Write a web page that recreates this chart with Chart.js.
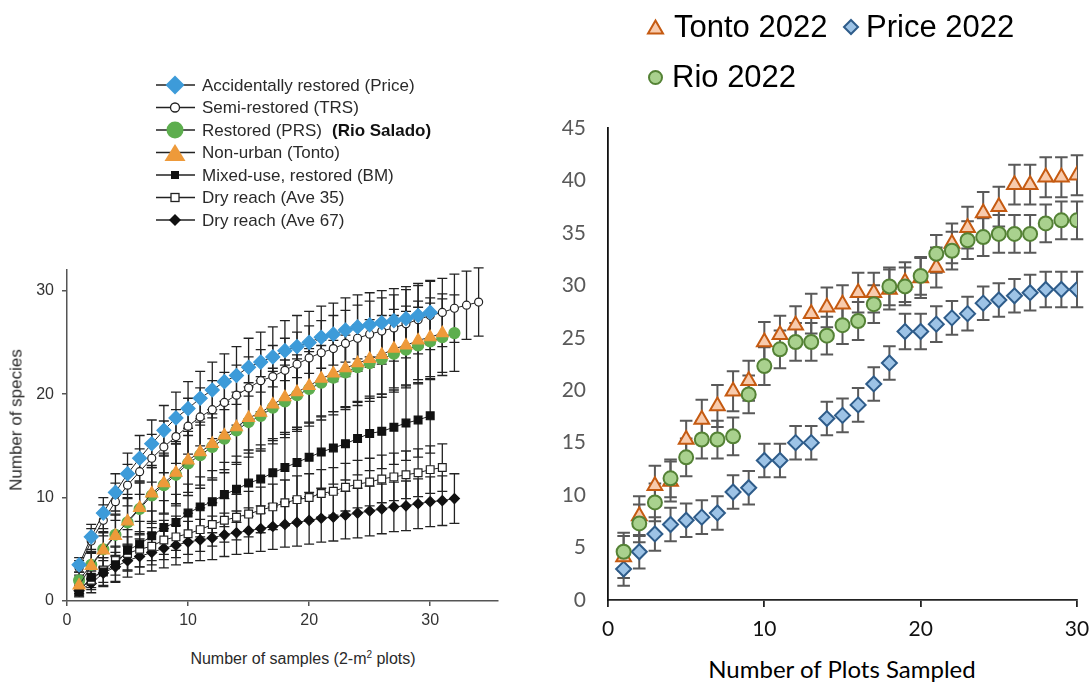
<!DOCTYPE html>
<html><head><meta charset="utf-8">
<script src="https://cdn.jsdelivr.net/npm/chart.js@4.4.1/dist/chart.umd.min.js"></script>
<style>
html,body{margin:0;padding:0;background:#fff;}
#wrap{position:relative;width:1091px;height:683px;overflow:hidden;background:#fff;}
canvas{position:absolute;}
.t{position:absolute;white-space:nowrap;}
.lg{font-family:"Liberation Sans",Arial,sans-serif;font-size:17px;line-height:17px;color:#2a2a2a;}
.rl{font-family:"Liberation Sans",Arial,sans-serif;font-size:31px;line-height:31px;color:#000;}
#icons{position:absolute;left:0;top:0;}
</style></head><body><div id="wrap">
<canvas id="leftChart" width="510" height="380" style="left:0;top:250px"></canvas>
<canvas id="rightChart" width="551" height="540" style="left:540px;top:110px"></canvas>

<svg id="icons" width="1091" height="240">
  <g stroke="#222" stroke-width="1.5">
    <line x1="156" y1="85" x2="195" y2="85"/>
    <line x1="156" y1="107.5" x2="195" y2="107.5"/>
    <line x1="156" y1="130" x2="195" y2="130"/>
    <line x1="156" y1="152.5" x2="195" y2="152.5"/>
    <line x1="156" y1="175" x2="195" y2="175"/>
    <line x1="156" y1="197.5" x2="195" y2="197.5"/>
    <line x1="156" y1="220" x2="195" y2="220"/>
  </g>
  <polygon points="175,75.5 184.5,85 175,94.5 165.5,85" fill="#3D9BD9"/>
  <circle cx="175" cy="107.5" r="4.5" fill="#fff" stroke="#222" stroke-width="1.3"/>
  <circle cx="175" cy="130" r="8.5" fill="#5DAE4E"/>
  <polygon points="175,144 185.5,161 164.5,161" fill="#EE9A3A"/>
  <rect x="171" y="171" width="8" height="8" fill="#111"/>
  <rect x="171" y="193.5" width="8" height="8" fill="#fff" stroke="#222" stroke-width="1.3"/>
  <polygon points="175,214 181,220 175,226 169,220" fill="#111"/>

  <polygon points="655.5,20.5 663,33.5 648,33.5" fill="#F8CBAD" stroke="#C55A11" stroke-width="2" stroke-linejoin="miter"/>
  <polygon points="851,20 858,27 851,34 844,27" fill="#9DC3E6" stroke="#2E5C8A" stroke-width="2"/>
  <circle cx="655.5" cy="77.5" r="6.5" fill="#A9D18E" stroke="#548235" stroke-width="2"/>
</svg>

<div class="t lg" style="left:202px;top:76.7px">Accidentally restored (Price)</div>
<div class="t lg" style="left:202px;top:99.2px">Semi-restored (TRS)</div>
<div class="t lg" style="left:202px;top:121.7px">Restored (PRS)</div>
<div class="t lg" style="left:332px;top:121.7px;font-weight:bold;color:#111">(Rio Salado)</div>
<div class="t lg" style="left:202px;top:144.2px">Non-urban (Tonto)</div>
<div class="t lg" style="left:202px;top:166.7px">Mixed-use, restored (BM)</div>
<div class="t lg" style="left:202px;top:189.2px">Dry reach (Ave 35)</div>
<div class="t lg" style="left:202px;top:211.7px">Dry reach (Ave 67)</div>

<div class="t" style="left:16px;top:420px;transform:translate(-50%,-50%) rotate(-90deg);font-family:'Liberation Sans',Arial,sans-serif;font-size:17px;line-height:17px;color:#2a2a2a;">Number of species</div>
<div class="t" style="left:303px;top:650.7px;transform:translateX(-50%);font-family:'Liberation Sans',Arial,sans-serif;font-size:16px;line-height:16px;color:#2a2a2a;">Number of samples (2-m<sup style="font-size:10px;line-height:0">2</sup> plots)</div>

<div class="t rl" style="left:674px;top:10.9px">Tonto 2022</div>
<div class="t rl" style="left:866px;top:10.9px">Price 2022</div>
<div class="t rl" style="left:672px;top:60.9px">Rio 2022</div>

<div class="t" style="left:842px;top:656.5px;transform:translateX(-50%);font-family:Lato,'Open Sans',sans-serif;font-size:24px;line-height:24px;color:#000;">Number of Plots Sampled</div>
</div>

<script>
// ---------- Left chart data (species accumulation, x = 1..n samples) ----------
const leftPrice   = [3.5,6.2,8.5,10.5,12.3,13.8,15.2,16.5,17.7,18.6,19.6,20.4,21.2,21.8,22.6,23.1,23.6,24.2,24.6,25.0,25.5,25.8,26.2,26.5,26.7,26.9,27.1,27.3,27.6,27.9];
const leftPriceErr= [0.7,1.2,1.5,1.8,2.0,2.2,2.3,2.4,2.5,2.6,2.6,2.7,2.7,2.8,2.8,2.9,2.9,2.9,3.0,3.0,3.0,3.0,3.1,3.1,3.1,3.1,3.1,3.1,3.1,3.1];
const leftTRS     = [3.2,5.8,7.8,9.6,11.2,12.5,13.8,14.9,15.9,16.9,17.8,18.5,19.2,19.9,20.6,21.3,21.7,22.3,22.9,23.5,24.0,24.4,24.9,25.4,25.8,26.1,26.4,26.8,27.2,27.6,27.9,28.3,28.6,28.9];
const leftTRSErr  = [0.7,1.2,1.5,1.8,2.0,2.2,2.3,2.5,2.6,2.7,2.8,2.8,2.9,2.9,3.0,3.0,3.0,3.1,3.1,3.1,3.1,3.2,3.2,3.2,3.2,3.2,3.2,3.3,3.3,3.3,3.3,3.3,3.3,3.3];
const leftRio     = [2.0,3.5,5.0,6.4,7.6,8.9,10.2,11.2,12.2,13.3,14.1,14.9,15.7,16.5,17.3,17.9,18.7,19.3,19.9,20.5,21.1,21.6,22.1,22.6,23.0,23.4,23.9,24.3,24.7,25.1,25.5,25.9];
const leftRioErr  = [0.8,1.3,1.7,2.0,2.3,2.5,2.7,2.8,3.0,3.1,3.2,3.2,3.3,3.3,3.4,3.4,3.5,3.5,3.5,3.6,3.6,3.6,3.6,3.7,3.7,3.7,3.7,3.7,3.7,3.7,3.7,3.7];
const leftTonto   = [1.5,3.4,4.9,6.3,7.7,9.0,10.4,11.4,12.4,13.6,14.4,15.2,16.0,16.8,17.7,18.2,19.0,19.7,20.2,20.8,21.5,22.0,22.5,23.0,23.4,23.8,24.4,24.7,25.2,25.5,25.9];
const leftTontoErr= [0.8,1.3,1.7,2.0,2.3,2.5,2.7,2.9,3.0,3.1,3.2,3.3,3.3,3.4,3.4,3.5,3.5,3.6,3.6,3.6,3.7,3.7,3.7,3.7,3.8,3.8,3.8,3.8,3.8,3.8,3.8];
const leftBM      = [0.9,2.3,2.8,3.5,4.9,5.5,6.3,7.1,7.6,8.5,9.1,9.6,10.3,10.8,11.4,11.8,12.4,12.9,13.4,13.9,14.4,14.8,15.2,15.7,16.2,16.4,16.8,17.2,17.5,17.9];
const leftBMErr   = [0.5,1.0,1.4,1.7,2.0,2.2,2.4,2.6,2.7,2.8,2.9,3.0,3.1,3.2,3.2,3.3,3.3,3.4,3.4,3.4,3.5,3.5,3.5,3.5,3.6,3.6,3.6,3.6,3.6,3.6];
const leftAve35   = [1.2,2.0,3.0,3.9,4.6,5.0,5.3,5.9,6.2,6.5,6.9,7.4,7.8,8.1,8.4,8.8,9.1,9.5,9.8,10.0,10.4,10.6,11.0,11.3,11.5,11.8,12.0,12.2,12.4,12.7,12.9];
const leftAve35Err= [0.5,0.9,1.2,1.4,1.6,1.7,1.8,1.9,2.0,2.0,2.1,2.1,2.1,2.2,2.2,2.2,2.2,2.2,2.3,2.3,2.3,2.3,2.3,2.3,2.3,2.3,2.3,2.3,2.3,2.3,2.3];
const leftAve67   = [1.0,1.7,2.7,3.3,3.9,4.3,4.7,5.1,5.4,5.7,5.9,6.1,6.4,6.6,6.8,7.0,7.2,7.4,7.6,7.8,8.0,8.1,8.3,8.5,8.7,8.9,9.1,9.2,9.4,9.6,9.7,9.9];
const leftAve67Err= [0.5,0.9,1.2,1.4,1.6,1.7,1.8,1.9,1.9,2.0,2.0,2.1,2.1,2.1,2.2,2.2,2.2,2.2,2.3,2.3,2.3,2.3,2.3,2.4,2.4,2.4,2.4,2.4,2.4,2.4,2.4,2.4];
const leftXTicks  = [0,10,20,30];
const leftYTicks  = [0,10,20,30];

// ---------- Right chart data (2022 surveys, x = 1..30 plots) ----------
const tonto2022    = [4.1,8.0,10.9,11.3,15.3,17.2,18.5,19.9,20.9,24.6,25.3,26.2,27.3,27.9,28.2,29.3,29.3,29.6,30.3,30.7,31.7,34.0,35.5,36.9,37.5,39.6,39.6,40.3,40.3,40.5];
const tonto2022Err = [2.0,1.9,1.9,1.9,1.8,1.9,2.0,1.9,1.9,1.9,1.8,1.8,1.9,1.9,1.8,1.9,1.9,1.9,1.9,1.9,1.9,1.9,2.0,2.0,1.9,1.9,1.9,1.9,1.9,1.9];
const price2022    = [2.95,4.6,6.3,7.2,7.6,7.9,8.3,10.3,10.7,13.3,13.3,15.0,15.0,17.3,17.6,18.6,20.6,22.6,25.6,25.6,26.3,26.9,27.3,28.3,28.6,29.0,29.3,29.6,29.6,29.6];
const price2022Err = [1.6,1.6,1.6,1.6,1.6,1.6,1.6,1.6,1.6,1.6,1.6,1.6,1.6,1.6,1.6,1.6,1.6,1.6,1.7,1.7,1.7,1.6,1.6,1.6,1.6,1.6,1.7,1.7,1.7,1.7];
const rio2022      = [4.6,7.3,9.3,11.6,13.6,15.3,15.3,15.6,19.6,22.3,23.9,24.6,24.6,25.2,26.2,26.6,28.2,29.9,29.9,30.9,33.0,33.3,34.3,34.6,34.9,34.9,34.9,35.9,36.2,36.2];
const rio2022Err   = [1.8,1.8,1.8,1.8,1.8,1.8,1.8,1.8,1.8,1.8,1.8,1.8,1.8,1.8,1.8,1.8,1.8,1.8,1.8,1.8,1.8,1.8,1.8,1.8,1.8,1.8,1.8,1.8,1.8,1.8];
const rightXTicks  = [0,10,20,30];
const rightYTicks  = [0,5,10,15,20,25,30,35,40,45];

const pts = arr => arr.map((v,i)=>({x:i+1,y:v}));

const errorBars = {
  id:'errorBars',
  beforeDatasetsDraw(chart, args, opts){
    const {ctx, scales:{x,y}} = chart;
    ctx.save();
    ctx.strokeStyle = opts.color; ctx.lineWidth = opts.width; ctx.lineCap='butt';
    chart.data.datasets.forEach((ds,i)=>{
      if(!ds.errors) return;
      ds.data.forEach((p,j)=>{
        const e = ds.errors[j];
        const px = x.getPixelForValue(p.x);
        const t = y.getPixelForValue(p.y+e), b = y.getPixelForValue(p.y-e);
        ctx.beginPath();
        ctx.moveTo(px,t); ctx.lineTo(px,b);
        ctx.moveTo(px-opts.cap,t); ctx.lineTo(px+opts.cap,t);
        ctx.moveTo(px-opts.cap,b); ctx.lineTo(px+opts.cap,b);
        ctx.stroke();
      });
    });
    ctx.restore();
  }
};

const keepTicks = list => s => { s.ticks = list.map(v=>({value:v})); };

const BLUE='#3D9BD9', GREEN='#5DAE4E', ORANGE='#EE9A3A', BLK='#111';
const leftLine = {showLine:true, borderColor:'#222', borderWidth:1, pointBorderWidth:1.2};

new Chart(document.getElementById('leftChart'), {
  type:'scatter',
  data:{datasets:[
    {...leftLine, label:'Accidentally restored (Price)', data:pts(leftPrice), errors:leftPriceErr, pointStyle:'rectRot', pointRadius:7, pointBackgroundColor:BLUE, pointBorderColor:BLUE, order:0},
    {...leftLine, label:'Non-urban (Tonto)', data:pts(leftTonto), errors:leftTontoErr, pointStyle:'triangle', pointRadius:7, pointBackgroundColor:ORANGE, pointBorderColor:ORANGE, order:1},
    {...leftLine, label:'Semi-restored (TRS)', data:pts(leftTRS), errors:leftTRSErr, pointStyle:'circle', pointRadius:4, pointBackgroundColor:'#fff', pointBorderColor:'#222', order:2},
    {...leftLine, label:'Restored (PRS)', data:pts(leftRio), errors:leftRioErr, pointStyle:'circle', pointRadius:5.5, pointBackgroundColor:GREEN, pointBorderColor:GREEN, order:3},
    {...leftLine, label:'Mixed-use, restored (BM)', data:pts(leftBM), errors:leftBMErr, pointStyle:'rect', pointRadius:5.5, pointBackgroundColor:BLK, pointBorderColor:BLK, order:4},
    {...leftLine, label:'Dry reach (Ave 35)', data:pts(leftAve35), errors:leftAve35Err, pointStyle:'rect', pointRadius:5.5, pointBackgroundColor:'#fff', pointBorderColor:'#222', order:5},
    {...leftLine, label:'Dry reach (Ave 67)', data:pts(leftAve67), errors:leftAve67Err, pointStyle:'rectRot', pointRadius:5, pointBackgroundColor:BLK, pointBorderColor:BLK, order:6}
  ]},
  options:{
    responsive:false, animation:false, events:[],
    layout:{padding:{top:20,right:12,left:0,bottom:0}},
    plugins:{legend:{display:false}, tooltip:{enabled:false}, errorBars:{color:'#222', width:1.3, cap:5}},
    scales:{
      x:{type:'linear', min:0, max:35.6, afterBuildTicks:keepTicks(leftXTicks),
         ticks:{color:'#333', font:{family:'"Liberation Sans", Arial, sans-serif', size:16}, padding:5, maxRotation:0},
         grid:{display:true, drawOnChartArea:false, drawTicks:true, tickLength:5, color:'#555', lineWidth:1.5},
         border:{display:true, color:'#555', width:1.5},
         afterFit:s=>{s.height=29; s.paddingLeft=0; s.paddingRight=0;}},
      y:{type:'linear', min:0, max:32, afterBuildTicks:keepTicks(leftYTicks),
         ticks:{color:'#333', font:{family:'"Liberation Sans", Arial, sans-serif', size:16}, padding:8},
         grid:{display:true, drawOnChartArea:false, drawTicks:true, tickLength:5, color:'#555', lineWidth:1.5},
         border:{display:true, color:'#555', width:1.5},
         afterFit:s=>{s.width=67; s.paddingTop=0; s.paddingBottom=0;}}
    }
  },
  plugins:[errorBars]
});

new Chart(document.getElementById('rightChart'), {
  type:'scatter',
  data:{datasets:[
    {label:'Rio 2022', data:pts(rio2022), errors:rio2022Err, pointStyle:'circle', pointRadius:7, pointBorderWidth:2, pointBackgroundColor:'#A9D18E', pointBorderColor:'#548235', order:0},
    {label:'Tonto 2022', data:pts(tonto2022), errors:tonto2022Err, pointStyle:'triangle', pointRadius:8.5, pointBorderWidth:2, pointBackgroundColor:'#F8CBAD', pointBorderColor:'#C55A11', order:1},
    {label:'Price 2022', data:pts(price2022), errors:price2022Err, pointStyle:'rectRot', pointRadius:7.5, pointBorderWidth:2, pointBackgroundColor:'#9DC3E6', pointBorderColor:'#2E5C8A', order:2}
  ]},
  options:{
    responsive:false, animation:false, events:[],
    layout:{padding:{top:18,right:14,left:0,bottom:0}},
    plugins:{legend:{display:false}, tooltip:{enabled:false}, errorBars:{color:'#595959', width:2, cap:6.3}},
    scales:{
      x:{type:'linear', min:0, max:30, afterBuildTicks:keepTicks(rightXTicks),
         ticks:{color:'#111', font:{family:'Lato, "Open Sans", sans-serif', size:21}, padding:10, maxRotation:0},
         grid:{display:true, drawOnChartArea:false, drawTicks:true, tickLength:7, color:'#222', lineWidth:1.8},
         border:{display:true, color:'#222', width:1.8},
         afterFit:s=>{s.height=50; s.paddingLeft=0; s.paddingRight=0;}},
      y:{type:'linear', min:0, max:45, afterBuildTicks:keepTicks(rightYTicks),
         ticks:{color:'#595959', font:{family:'Lato, "Open Sans", sans-serif', size:21}, padding:22},
         grid:{display:false, drawTicks:false},
         border:{display:true, color:'#111', width:1.8},
         afterFit:s=>{s.width=68; s.paddingTop=0; s.paddingBottom=0;}}
    }
  },
  plugins:[errorBars]
});
</script>
</body></html>
